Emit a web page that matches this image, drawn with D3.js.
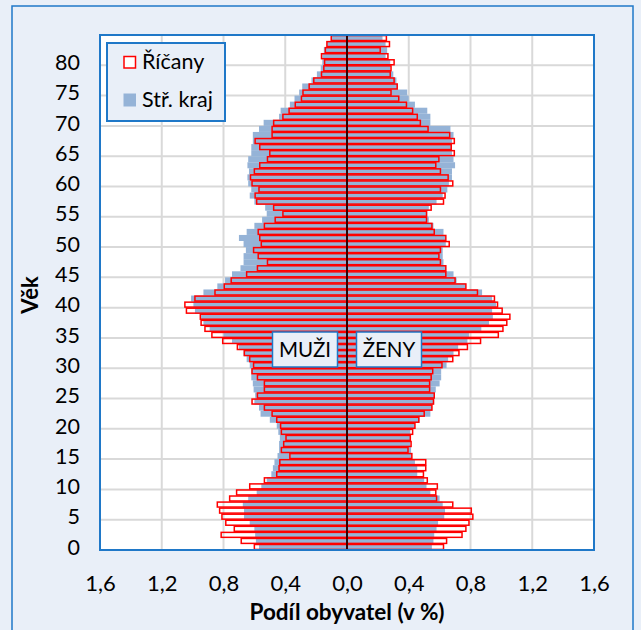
<!DOCTYPE html>
<html><head><meta charset="utf-8">
<script src="https://cdn.jsdelivr.net/npm/d3@7/dist/d3.min.js"></script>
<style>body{margin:0;background:#fff}svg{display:block}</style>
</head><body>
<svg id="chart" width="641" height="630"></svg>
<script>
// ---- data ----
const ages = [0,1,2,3,4,5,6,7,8,9,10,11,12,13,14,15,16,17,18,19,20,21,22,23,24,25,26,27,28,29,30,31,32,33,34,35,36,37,38,39,40,41,42,43,44,45,46,47,48,49,50,51,52,53,54,55,56,57,58,59,60,61,62,63,64,65,66,67,68,69,70,71,72,73,74,75,76,77,78,79,80,81,82,83,84];
const ricanyMale = [0.605,0.69,0.82,0.735,0.79,0.815,0.83,0.845,0.765,0.72,0.635,0.54,0.46,0.445,0.44,0.375,0.43,0.415,0.40,0.43,0.435,0.46,0.49,0.54,0.62,0.585,0.54,0.54,0.585,0.62,0.61,0.635,0.67,0.715,0.81,0.88,0.925,0.95,0.955,1.045,1.055,0.99,0.86,0.80,0.755,0.655,0.585,0.52,0.58,0.61,0.56,0.57,0.58,0.54,0.47,0.42,0.48,0.59,0.60,0.575,0.62,0.63,0.605,0.57,0.52,0.505,0.57,0.60,0.49,0.49,0.48,0.42,0.38,0.34,0.30,0.29,0.25,0.22,0.17,0.155,0.15,0.17,0.145,0.135,0.107];
const ricanyFemale = [0.63,0.65,0.75,0.775,0.795,0.82,0.81,0.69,0.585,0.58,0.59,0.525,0.50,0.515,0.515,0.425,0.40,0.42,0.415,0.43,0.445,0.47,0.505,0.555,0.565,0.57,0.54,0.54,0.55,0.56,0.62,0.69,0.73,0.785,0.87,0.985,1.015,1.04,1.06,1.01,0.98,0.96,0.85,0.775,0.705,0.645,0.645,0.61,0.60,0.61,0.667,0.645,0.57,0.555,0.52,0.52,0.55,0.63,0.64,0.61,0.69,0.66,0.61,0.58,0.60,0.70,0.68,0.70,0.67,0.53,0.48,0.46,0.43,0.39,0.34,0.29,0.33,0.31,0.285,0.29,0.31,0.27,0.22,0.28,0.26];
const krajMale = [0.57,0.59,0.595,0.60,0.63,0.667,0.667,0.675,0.64,0.585,0.555,0.52,0.49,0.48,0.47,0.45,0.44,0.44,0.435,0.445,0.455,0.50,0.56,0.57,0.60,0.595,0.605,0.61,0.62,0.62,0.63,0.65,0.67,0.70,0.745,0.80,0.89,0.93,0.945,0.985,0.995,1.01,0.93,0.84,0.79,0.745,0.69,0.67,0.67,0.655,0.67,0.70,0.65,0.60,0.55,0.52,0.53,0.60,0.63,0.62,0.64,0.645,0.635,0.645,0.64,0.62,0.62,0.61,0.61,0.57,0.54,0.44,0.43,0.37,0.34,0.31,0.29,0.23,0.195,0.17,0.16,0.16,0.15,0.13,0.10];
const krajFemale = [0.55,0.56,0.565,0.58,0.59,0.63,0.635,0.62,0.60,0.54,0.515,0.50,0.455,0.455,0.44,0.42,0.415,0.41,0.41,0.41,0.44,0.47,0.54,0.55,0.565,0.57,0.575,0.60,0.61,0.61,0.645,0.655,0.69,0.72,0.78,0.79,0.87,0.92,0.945,0.94,0.965,0.94,0.875,0.77,0.71,0.69,0.64,0.625,0.62,0.62,0.64,0.635,0.625,0.56,0.53,0.52,0.53,0.58,0.62,0.65,0.66,0.68,0.68,0.70,0.69,0.68,0.68,0.68,0.69,0.67,0.54,0.54,0.52,0.44,0.40,0.39,0.33,0.32,0.30,0.28,0.28,0.25,0.26,0.25,0.23];
const xTickValues = [-1.6,-1.2,-0.8,-0.4,0,0.4,0.8,1.2,1.6];
const xTickLabels = ["1,6","1,2","0,8","0,4","0,0","0,4","0,8","1,2","1,6"];
const yTickAges = [0,5,10,15,20,25,30,35,40,45,50,55,60,65,70,75,80];
const seriesNames = ["Říčany","Stř. kraj"];
const sexLabels = ["MUŽI","ŽENY"];
const xTitle = "Podíl obyvatel (v %)";
const yTitle = "Věk";

// ---- styles ----
const BG = "#e9eff8", BLUE_BORDER = "#1f78c8", GRID = "#d9d9d9";
const KRAJ = "#95b3d7", RED = "#ff0000";
const FONT = "Lato, 'Open Sans', sans-serif";

const svg = d3.select("#chart");
const W = 641, H = 630;
const plot = {left:100, right:594, top:35, bottom:550};

svg.append("rect").attr("width",W).attr("height",H).attr("fill",BG);
svg.append("rect").attr("x",12).attr("y",6).attr("width",621).attr("height",640)
  .attr("fill","none").attr("stroke",BLUE_BORDER).attr("stroke-width",1.5);

const x = d3.scaleLinear().domain([-1.6,1.6]).range([plot.left, plot.right]);
const y = d3.scaleBand().domain(ages.slice().reverse()).range([plot.top, plot.bottom]).padding(0);
const bw = y.bandwidth();

svg.append("rect").attr("x",plot.left).attr("y",plot.top)
  .attr("width",plot.right-plot.left).attr("height",plot.bottom-plot.top).attr("fill","#fff");

// gridlines
const g = svg.append("g");
g.selectAll(".vg").data(xTickValues).join("line")
  .attr("x1",d=>x(d)).attr("x2",d=>x(d)).attr("y1",plot.top).attr("y2",plot.bottom)
  .attr("stroke",GRID).attr("stroke-width",2);
g.selectAll(".hg").data(yTickAges.filter(a=>a>0)).join("line")
  .attr("x1",plot.left).attr("x2",plot.right)
  .attr("y1",d=>y(d)+bw).attr("y2",d=>y(d)+bw)
  .attr("stroke",GRID).attr("stroke-width",2);

// kraj bars
const bars = svg.append("g");
bars.selectAll(".km").data(ages).join("rect")
  .attr("x",(d,i)=>x(-krajMale[i])).attr("width",(d,i)=>x(0)-x(-krajMale[i]))
  .attr("y",d=>y(d)).attr("height",bw).attr("fill",KRAJ);
bars.selectAll(".kf").data(ages).join("rect")
  .attr("x",x(0)).attr("width",(d,i)=>x(krajFemale[i])-x(0))
  .attr("y",d=>y(d)).attr("height",bw).attr("fill",KRAJ);

// ricany bars (outline)
const sw = 1.5;
bars.selectAll(".rm").data(ages).join("rect")
  .attr("x",(d,i)=>x(-ricanyMale[i])+sw/2).attr("width",(d,i)=>x(0)-x(-ricanyMale[i])-sw/2)
  .attr("y",d=>y(d)+0.55).attr("height",bw-1.1)
  .attr("fill","none").attr("stroke",RED).attr("stroke-width",sw);
bars.selectAll(".rf").data(ages).join("rect")
  .attr("x",x(0)).attr("width",(d,i)=>x(ricanyFemale[i])-x(0)-sw/2)
  .attr("y",d=>y(d)+0.55).attr("height",bw-1.1)
  .attr("fill","none").attr("stroke",RED).attr("stroke-width",sw);

// centre line
svg.append("line").attr("x1",x(0)).attr("x2",x(0)).attr("y1",plot.top).attr("y2",plot.bottom)
  .attr("stroke","#000").attr("stroke-width",1.6);

// plot border
svg.append("rect").attr("x",plot.left).attr("y",plot.top)
  .attr("width",plot.right-plot.left).attr("height",plot.bottom-plot.top)
  .attr("fill","none").attr("stroke",BLUE_BORDER).attr("stroke-width",2);

// axes
const xAxis = d3.axisBottom(x).tickValues(xTickValues)
  .tickFormat((d,i)=>xTickLabels[i]).tickSize(0).tickPadding(0);
const xa = svg.append("g").attr("transform",`translate(0,${plot.bottom})`).call(xAxis);
xa.select(".domain").remove();
xa.selectAll("text").attr("y",41).attr("dy",0).attr("font-family",FONT).attr("font-size",22).attr("fill","#000");

const yAxis = d3.axisLeft(y).tickValues(yTickAges).tickSize(0).tickPadding(0);
const ya = svg.append("g").attr("transform",`translate(${plot.left},0)`).call(yAxis);
ya.select(".domain").remove();
ya.selectAll("text").attr("x",-20).attr("dy","0.36em").attr("font-family",FONT).attr("font-size",21.5).attr("fill","#000");

// axis titles
svg.append("text").attr("x",x(0)).attr("y",620).attr("text-anchor","middle")
  .attr("font-family",FONT).attr("font-weight","bold").attr("font-size",22.5).text(xTitle);
svg.append("text").attr("transform","translate(38,295) rotate(-90)").attr("text-anchor","middle")
  .attr("font-family",FONT).attr("font-weight","bold").attr("font-size",22).text(yTitle);

// legend
const lg = svg.append("g");
lg.append("rect").attr("x",107).attr("y",43).attr("width",118).attr("height",78)
  .attr("fill",BG).attr("stroke",BLUE_BORDER).attr("stroke-width",2);
lg.append("rect").attr("x",124).attr("y",56.5).attr("width",11.5).attr("height",11.5)
  .attr("fill","#fff").attr("stroke",RED).attr("stroke-width",1.5);
lg.append("rect").attr("x",123.5).attr("y",93.5).attr("width",12.5).attr("height",13)
  .attr("fill",KRAJ);
lg.append("text").attr("x",142).attr("y",69).attr("font-family",FONT).attr("font-size",21.5).text(seriesNames[0]);
lg.append("text").attr("x",142).attr("y",107).attr("font-family",FONT).attr("font-size",21.5).text(seriesNames[1]);

// sex labels
const boxes = [{x:272.5,w:65,t:sexLabels[0]},{x:356.5,w:65,t:sexLabels[1]}];
boxes.forEach(b=>{
  svg.append("rect").attr("x",b.x).attr("y",332).attr("width",b.w).attr("height",35)
    .attr("fill",BG).attr("stroke",BLUE_BORDER).attr("stroke-width",1.5);
  svg.append("text").attr("x",b.x+b.w/2).attr("y",357).attr("text-anchor","middle")
    .attr("font-family",FONT).attr("font-size",20.5).text(b.t);
});
</script>
</body></html>
